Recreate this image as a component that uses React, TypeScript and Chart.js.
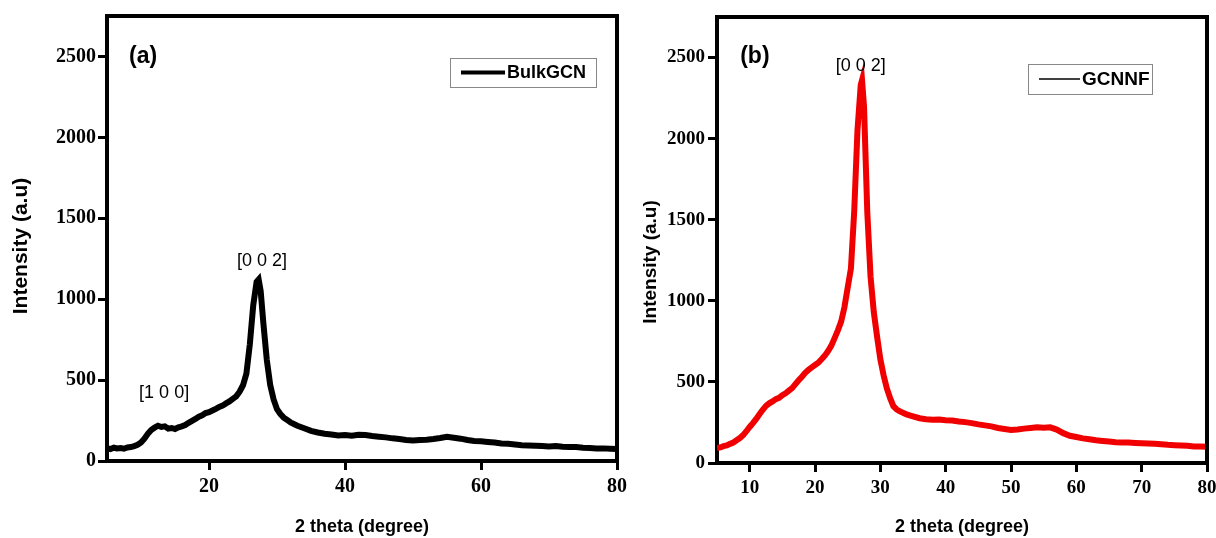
import React, { useEffect, useRef } from 'react';
import { Chart, registerables } from 'chart.js';

Chart.register(...registerables);

// ---------- DATA ----------
const bulkTheta = [
  5, 5.5, 6, 6.5, 7, 7.5, 8, 8.5, 9, 9.5, 10, 10.5, 11, 11.5, 12, 12.5, 13, 13.5, 14, 14.5,
  15, 15.5, 16, 16.5, 17, 17.5, 18, 18.5, 19, 19.5, 20, 20.5, 21, 21.5, 22, 22.5, 23, 23.5, 24, 24.5,
  25, 25.5, 26, 26.5, 27, 27.3, 27.6, 28, 28.5, 29, 29.5, 30, 30.5, 31, 31.5, 32, 33, 34, 35, 36,
  37, 38, 39, 40, 41, 42, 43, 44, 45, 46, 47, 48, 49, 50, 51, 52, 53, 54, 55, 56,
  57, 58, 59, 60, 61, 62, 63, 64, 65, 66, 67, 68, 69, 70, 71, 72, 73, 74, 75, 76,
  77, 78, 79, 80,
];
const bulkIntensity = [
  80, 74, 82, 77, 80, 76, 84, 86, 92, 100, 114, 138, 168, 192, 206, 218, 210, 214, 200, 204,
  198, 208, 214, 222, 236, 248, 260, 274, 282, 296, 302, 312, 322, 334, 342, 356, 368, 384, 400, 428,
  468, 540, 720, 960, 1108, 1122, 1050, 850, 625, 470, 380, 320, 290, 268, 254, 238, 218, 202, 186, 176,
  168, 164, 158, 160, 156, 162, 160, 154, 150, 146, 140, 136, 130, 126, 130, 132, 136, 142, 150, 144,
  138, 130, 124, 122, 118, 114, 108, 106, 102, 98, 96, 94, 92, 90, 92, 88, 86, 86, 82, 80,
  78, 78, 76, 74,
];

const nfTheta = [
  5, 5.5, 6, 6.5, 7, 7.5, 8, 8.5, 9, 9.5, 10, 10.5, 11, 11.5, 12, 12.5, 13, 13.5, 14, 14.5,
  15, 15.5, 16, 16.5, 17, 17.5, 18, 18.5, 19, 19.5, 20, 20.5, 21, 21.5, 22, 22.5, 23, 23.5, 24, 24.5,
  25, 25.5, 26, 26.5, 27, 27.2, 27.5, 28, 28.5, 29, 29.5, 30, 30.5, 31, 31.5, 32, 32.5, 33, 34, 35,
  36, 37, 38, 39, 40, 41, 42, 43, 44, 45, 46, 47, 48, 49, 50, 51, 52, 53, 54, 55,
  56, 57, 58, 59, 60, 61, 62, 63, 64, 65, 66, 67, 68, 69, 70, 71, 72, 73, 74, 75,
  76, 77, 78, 79, 80,
];
const nfIntensity = [
  92, 96, 104, 108, 118, 126, 140, 154, 172, 196, 222, 246, 272, 300, 328, 352, 368, 380, 394, 402,
  418, 430, 446, 462, 486, 510, 532, 556, 574, 590, 604, 618, 640, 662, 690, 724, 770, 818, 872, 960,
  1080, 1200, 1550, 2050, 2330, 2360, 2200, 1550, 1150, 930, 780, 640, 540, 460, 400, 350, 330, 318, 300, 288,
  276, 270, 266, 268, 264, 262, 256, 252, 246, 238, 232, 226, 216, 210, 204, 206, 212, 216, 220, 218,
  220, 206, 184, 168, 160, 152, 146, 140, 136, 132, 128, 126, 126, 124, 122, 120, 118, 116, 112, 110,
  108, 106, 102, 102, 100,
];

const yTicks = [0, 500, 1000, 1500, 2000, 2500];
const bulkXTicks = [20, 40, 60, 80];
const nfXTicks = [10, 20, 30, 40, 50, 60, 70, 80];

const bulkLabel = 'BulkGCN';
const nfLabel = 'GCNNF';

const bulkPanelTag = { text: '(a)', x: 10.3, y: 2497 };
const nfPanelTag = { text: '(b)', x: 10.8, y: 2503 };
const bulkPeaks = [
  { text: '[0 0 2]', x: 27.8, y: 1236 },
  { text: '[1 0 0]', x: 13.4, y: 420 },
];
const nfPeaks = [{ text: '[0 0 2]', x: 27.0, y: 2450 }];

const xTitle = '2 theta (degree)';
const yTitle = 'Intensity (a.u)';

// ---------- CHART ----------
type Panel = {
  theta: number[];
  intensity: number[];
  label: string;
  color: string;
  xTicks: number[];
  tag: { text: string; x: number; y: number };
  peaks: { text: string; x: number; y: number }[];
  yAxisWidth: number;
  xAxisHeight: number;
  padTop: number;
  padRight: number;
  tickFont: number;
  yTitleFont: number;
  yTitleX: number;
  yTitleY: number;
  xTitleFont: number;
  yTickPad: number;
  legend: { x: number; y: number; w: number; h: number; lineW: number; lineLen: number; font: number };
};

function makeConfig(p: Panel): any {
  const frame = {
    id: 'frame',
    afterDatasetsDraw(chart: any) {
      const { ctx, chartArea: a } = chart;
      ctx.save();
      ctx.strokeStyle = '#000';
      ctx.lineWidth = 4;
      ctx.beginPath();
      ctx.moveTo(a.left - 2, a.top);
      ctx.lineTo(a.right, a.top);
      ctx.lineTo(a.right, a.bottom + 2);
      ctx.stroke();

      // y-axis title
      ctx.save();
      ctx.translate(p.yTitleX, p.yTitleY);
      ctx.rotate(-Math.PI / 2);
      ctx.fillStyle = '#000';
      ctx.textAlign = 'center';
      ctx.textBaseline = 'middle';
      ctx.font = `bold ${p.yTitleFont}px "Liberation Sans", Arial, sans-serif`;
      ctx.fillText(yTitle, 0, 0);
      ctx.restore();

      // annotations
      const xs = chart.scales.x;
      const ys = chart.scales.y;
      ctx.fillStyle = '#000';
      ctx.textAlign = 'center';
      ctx.textBaseline = 'middle';
      ctx.font = 'bold 23px "Liberation Sans", Arial, sans-serif';
      ctx.fillText(p.tag.text, xs.getPixelForValue(p.tag.x), ys.getPixelForValue(p.tag.y));
      ctx.font = '18px "Liberation Sans", Arial, sans-serif';
      for (const pk of p.peaks) {
        ctx.fillText(pk.text, xs.getPixelForValue(pk.x), ys.getPixelForValue(pk.y));
      }

      // legend box
      const L = p.legend;
      ctx.strokeStyle = '#888';
      ctx.lineWidth = 1;
      ctx.fillStyle = '#fff';
      ctx.fillRect(L.x, L.y, L.w, L.h);
      ctx.strokeRect(L.x + 0.5, L.y + 0.5, L.w, L.h);
      ctx.strokeStyle = '#000';
      ctx.lineWidth = L.lineW;
      const cy = L.y + L.h / 2;
      ctx.beginPath();
      ctx.moveTo(L.x + 11, cy);
      ctx.lineTo(L.x + 11 + L.lineLen, cy);
      ctx.stroke();
      ctx.fillStyle = '#000';
      ctx.textAlign = 'left';
      ctx.font = `bold ${L.font}px "Liberation Sans", Arial, sans-serif`;
      ctx.fillText(chart.data.datasets[0].label, L.x + 13 + L.lineLen, cy + 1);
      ctx.restore();
    },
  };

  const tickFont = { family: '"Liberation Serif", "Times New Roman", serif', weight: 'bold', size: p.tickFont };
  return {
    type: 'line',
    data: {
      datasets: [
        {
          label: p.label,
          data: p.theta.map((t, i) => ({ x: t, y: p.intensity[i] })),
          borderColor: p.color,
          borderWidth: 6,
          pointRadius: 0,
          tension: 0,
          fill: false,
        },
      ],
    },
    options: {
      responsive: false,
      maintainAspectRatio: false,
      animation: false,
      layout: { padding: { top: p.padTop, right: p.padRight, left: 0, bottom: 0 } },
      plugins: { legend: { display: false }, tooltip: { enabled: false } },
      scales: {
        x: {
          type: 'linear',
          min: 5,
          max: 80,
          afterBuildTicks: (s: any) => {
            s.ticks = p.xTicks.map((v) => ({ value: v }));
          },
          afterFit: (s: any) => {
            s.height = p.xAxisHeight;
            s.paddingLeft = 0;
            s.paddingRight = 0;
          },
          grid: { drawOnChartArea: false, drawTicks: true, tickLength: 9, tickWidth: 3, tickColor: '#000' },
          border: { display: true, width: 4, color: '#000' },
          ticks: {
            color: '#000',
            font: tickFont,
            padding: 5,
            maxRotation: 0,
            autoSkip: false,
            callback: (v: any) => String(v),
          },
          title: {
            display: true,
            text: xTitle,
            color: '#000',
            font: { family: '"Liberation Sans", Arial, sans-serif', weight: 'bold', size: p.xTitleFont },
            padding: { top: 0, bottom: 0 },
          },
        },
        y: {
          type: 'linear',
          min: 0,
          max: 2750,
          afterBuildTicks: (s: any) => {
            s.ticks = yTicks.map((v) => ({ value: v }));
          },
          afterFit: (s: any) => {
            s.width = p.yAxisWidth;
            s.paddingTop = 0;
            s.paddingBottom = 0;
          },
          grid: { drawOnChartArea: false, drawTicks: true, tickLength: 9, tickWidth: 3, tickColor: '#000' },
          border: { display: true, width: 4, color: '#000' },
          ticks: {
            color: '#000',
            font: tickFont,
            padding: p.yTickPad,
            autoSkip: false,
            callback: (v: any) => String(v),
          },
          title: { display: false, text: yTitle },
        },
      },
    },
    plugins: [frame],
  };
}

function PanelChart({ panel, left, width }: { panel: Panel; left: number; width: number }) {
  const ref = useRef<HTMLCanvasElement | null>(null);
  useEffect(() => {
    if (!ref.current) return;
    const chart = new Chart(ref.current, makeConfig(panel));
    return () => chart.destroy();
  }, [panel]);
  return (
    <canvas
      ref={ref}
      width={width}
      height={538}
      style={{ position: 'absolute', left, top: 0, width, height: 538 }}
    />
  );
}

const bulkPanel: Panel = {
  theta: bulkTheta,
  intensity: bulkIntensity,
  label: bulkLabel,
  color: '#000000',
  xTicks: bulkXTicks,
  tag: bulkPanelTag,
  peaks: bulkPeaks,
  yAxisWidth: 107,
  xAxisHeight: 77,
  padTop: 16,
  padRight: 23,
  tickFont: 20,
  yTitleFont: 21,
  yTitleX: 21,
  yTitleY: 246,
  xTitleFont: 18,
  yTickPad: 2,
  legend: { x: 450, y: 58, w: 146, h: 29, lineW: 4, lineLen: 44, font: 18 },
};

const nfPanel: Panel = {
  theta: nfTheta,
  intensity: nfIntensity,
  label: nfLabel,
  color: '#f00000',
  xTicks: nfXTicks,
  tag: nfPanelTag,
  peaks: nfPeaks,
  yAxisWidth: 92,
  xAxisHeight: 75,
  padTop: 17,
  padRight: 9,
  tickFont: 19,
  yTitleFont: 19,
  yTitleX: 26,
  yTitleY: 262,
  xTitleFont: 18,
  yTickPad: 3,
  legend: { x: 403, y: 64, w: 124, h: 30, lineW: 1.5, lineLen: 41, font: 19 },
};

export default function App() {
  return (
    <div style={{ position: 'absolute', left: 0, top: 0, width: 1216, height: 538, background: '#fff', overflow: 'hidden' }}>
      <PanelChart panel={bulkPanel} left={0} width={640} />
      <PanelChart panel={nfPanel} left={625} width={591} />
    </div>
  );
}
